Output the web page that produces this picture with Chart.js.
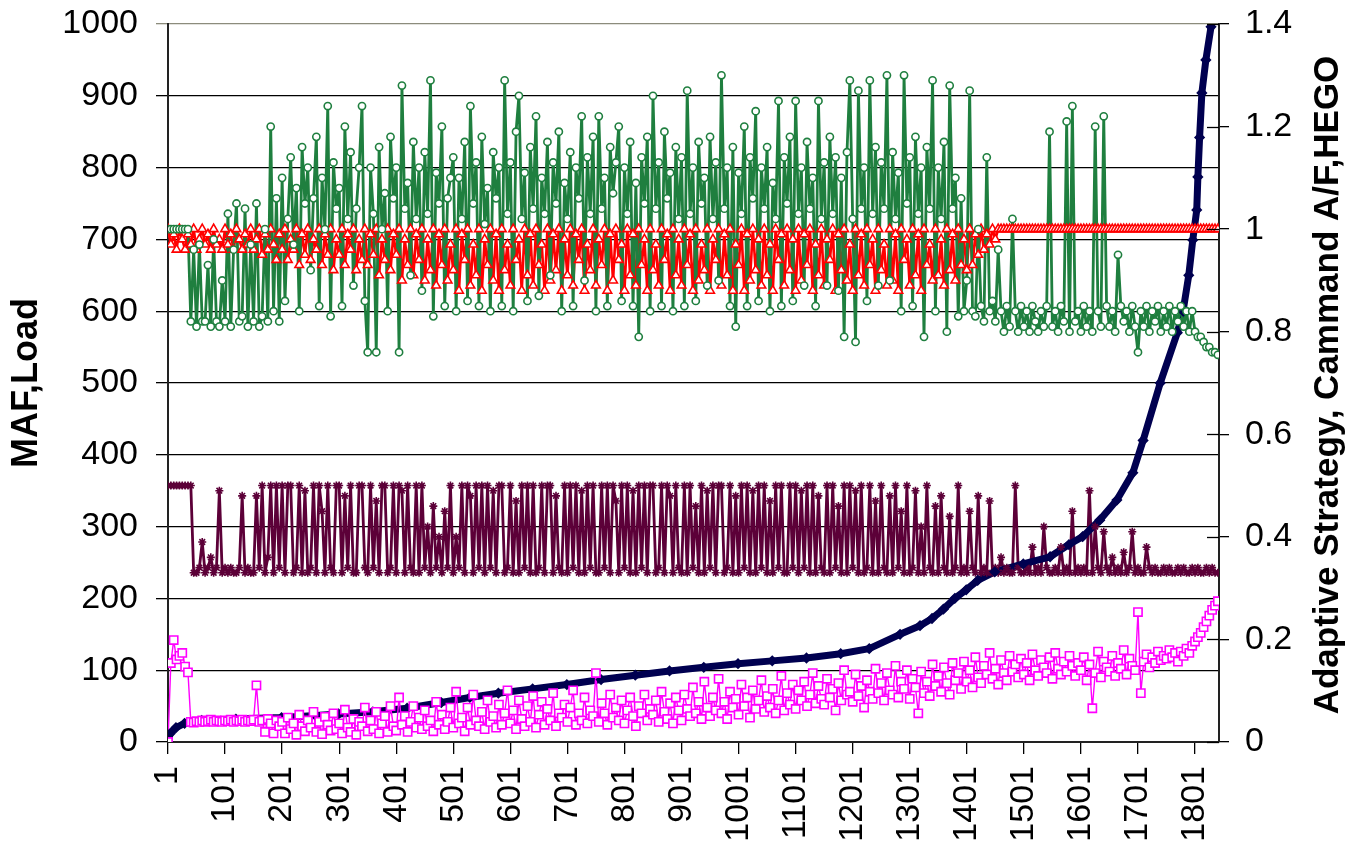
<!DOCTYPE html>
<html>
<head>
<meta charset="utf-8">
<title>MAF, Load, Adaptive Strategy, Commanded A/F, HEGO</title>
<script src="https://cdn.jsdelivr.net/npm/chart.js@4.4.1/dist/chart.umd.min.js"></script>
<style>
  html, body { margin: 0; padding: 0; background: #fff; }
  #wrap { width: 1359px; height: 848px; position: relative; }
</style>
</head>
<body>
<div id="wrap"><canvas id="engineChart"></canvas></div>
<script>
const FONT = "'Liberation Sans', Arial, sans-serif";

// log record numbers, one sample every 5 records (1 ... 1841)
const rowNumbers = [];
for (let r = 1; r <= 1841; r += 5) rowNumbers.push(r);

const xTickLabels = [1, 101, 201, 301, 401, 501, 601, 701, 801, 901, 1001,
  1101, 1201, 1301, 1401, 1501, 1601, 1701, 1801];

// right axis: HEGO (green circles), one line = 50 records
const hego = [
  1.00, 1.00, 1.00, 1.00, 1.00, 1.00, 1.00, 1.00, 0.82, 0.96,
  0.81, 0.97, 0.82, 0.82, 0.93, 0.81, 0.98, 0.82, 0.81, 0.90,
  0.82, 1.03, 0.81, 0.96, 1.05, 0.82, 0.83, 1.04, 0.81, 0.97,
  0.82, 1.05, 0.81, 0.83, 1.00, 0.82, 1.20, 0.84, 1.06, 0.82,
  1.10, 0.86, 1.02, 1.14, 0.97, 1.08, 0.84, 1.16, 1.05, 1.12,
  0.92, 1.06, 1.18, 0.85, 1.10, 1.00, 1.24, 0.83, 1.13, 1.04,
  1.08, 0.85, 1.20, 1.02, 1.15, 0.89, 1.04, 1.12, 1.24, 0.86,
  0.76, 1.12, 1.03, 0.76, 1.16, 1.00, 1.07, 0.84, 1.18, 1.06,
  1.12, 0.76, 1.28, 1.04, 1.09, 0.91, 1.17, 1.02, 1.12, 0.88,
  1.15, 1.03, 1.29, 0.83, 1.11, 1.05, 1.20, 0.85, 1.06, 1.10,
  1.14, 0.84, 1.10, 1.02, 1.17, 0.86, 1.24, 1.05, 1.13, 0.85,
  1.18, 1.01, 1.08, 0.84, 1.15, 1.06, 1.12, 0.85, 1.29, 1.03,
  1.13, 0.84, 1.19, 1.26, 1.02, 1.11, 0.86, 1.16, 1.04, 1.22,
  0.87, 1.10, 1.03, 1.17, 0.91, 1.13, 1.05, 1.19, 0.84, 1.09,
  1.02, 1.15, 0.85, 1.12, 1.06, 1.22, 0.90, 1.14, 1.03, 1.18,
  0.84, 1.22, 1.04, 1.10, 0.85, 1.16, 1.07, 1.13, 1.20, 0.86,
  1.12, 1.03, 1.17, 0.85, 1.09, 0.79, 1.14, 1.05, 1.18, 0.84,
  1.26, 1.04, 1.13, 0.85, 1.19, 1.06, 1.11, 0.84, 1.16, 1.02,
  1.14, 0.85, 1.27, 1.03, 1.12, 0.86, 1.17, 1.05, 1.10, 0.89,
  1.18, 1.02, 1.13, 0.90, 1.30, 1.04, 1.12, 0.85, 1.16, 0.81,
  1.11, 1.03, 1.20, 0.85, 1.14, 1.06, 1.23, 0.86, 1.12, 1.04,
  1.16, 0.84, 1.09, 1.02, 1.25, 0.85, 1.14, 1.05, 1.18, 0.86,
  1.25, 1.03, 1.12, 0.89, 1.17, 1.04, 1.10, 0.85, 1.25, 1.02,
  1.13, 0.89, 1.18, 1.03, 1.14, 0.88, 1.10, 0.79, 1.15, 1.29,
  1.02, 0.78, 1.27, 1.04, 1.12, 0.86, 1.29, 1.03, 1.16, 0.89,
  1.13, 1.04, 1.30, 0.90, 1.15, 1.02, 1.11, 0.84, 1.30, 1.05,
  1.14, 0.85, 1.18, 1.03, 1.12, 0.79, 1.16, 1.04, 1.29, 0.84,
  1.12, 1.02, 1.17, 0.80, 1.28, 1.04, 1.10, 0.83, 1.06, 0.84,
  0.90, 1.27, 0.84, 0.83, 1.00, 0.85, 0.82, 1.14, 0.84, 0.86,
  0.82, 0.96, 0.84, 0.80, 0.85, 0.81, 1.02, 0.84, 0.80, 0.85,
  0.81, 0.84, 0.80, 0.85, 0.82, 0.80, 0.84, 0.81, 0.85, 1.19,
  0.81, 0.84, 0.80, 0.85, 0.82, 1.21, 0.80, 1.24, 0.82, 0.84,
  0.80, 0.85, 0.81, 0.84, 0.80, 1.20, 0.84, 0.81, 1.22, 0.85,
  0.81, 0.84, 0.80, 0.95, 0.85, 0.82, 0.84, 0.80, 0.85, 0.81,
  0.76, 0.84, 0.81, 0.85, 0.80, 0.84, 0.82, 0.85, 0.80, 0.84,
  0.81, 0.85, 0.80, 0.84, 0.82, 0.85, 0.81, 0.84, 0.80, 0.84,
  0.80, 0.79, 0.79, 0.78, 0.77, 0.77, 0.76, 0.76, 0.755
];

// right axis: commanded A/F (red triangles)
const cmdAF = [
  1.00, 0.97, 0.99, 0.96, 1.00, 0.98, 0.96, 0.99, 0.97, 1.00,
  0.96, 0.98, 1.00, 0.97, 0.99, 0.96, 1.00, 0.97, 0.98, 0.96,
  1.00, 0.97, 0.99, 0.96, 1.00, 0.98, 0.96, 0.99, 0.97, 1.00,
  0.96, 0.98, 1.00, 0.95, 0.99, 0.96, 1.00, 0.97, 0.94, 0.99,
  0.96, 1.00, 0.94, 0.98, 0.96, 1.00, 0.93, 0.99, 0.95, 1.00,
  0.94, 0.98, 0.96, 1.00, 0.93, 0.99, 0.95, 1.00, 0.92, 0.98,
  0.95, 1.00, 0.93, 0.99, 0.96, 1.00, 0.92, 0.98, 0.94, 1.00,
  0.93, 0.99, 0.95, 1.00, 0.91, 0.98, 0.94, 1.00, 0.92, 0.99,
  0.95, 1.00, 0.90, 0.98, 0.93, 1.00, 0.91, 0.99, 0.94, 1.00,
  0.90, 0.98, 0.92, 1.00, 0.89, 0.99, 0.93, 1.00, 0.90, 0.97,
  0.92, 1.00, 0.88, 0.99, 0.94, 1.00, 0.89, 0.97, 0.91, 1.00,
  0.88, 0.98, 0.93, 1.00, 0.90, 0.99, 0.88, 1.00, 0.92, 0.97,
  0.89, 1.00, 0.94, 0.98, 0.88, 1.00, 0.91, 0.99, 0.89, 1.00,
  0.93, 0.97, 0.88, 1.00, 0.90, 0.99, 0.92, 1.00, 0.88, 0.98,
  0.91, 1.00, 0.89, 0.99, 0.94, 1.00, 0.88, 0.97, 0.92, 1.00,
  0.89, 0.98, 0.93, 1.00, 0.88, 0.99, 0.90, 1.00, 0.94, 0.97,
  0.88, 1.00, 0.91, 0.99, 0.89, 1.00, 0.93, 0.98, 0.88, 1.00,
  0.92, 0.97, 0.89, 1.00, 0.94, 0.99, 0.88, 1.00, 0.91, 0.98,
  0.89, 1.00, 0.93, 0.99, 0.88, 1.00, 0.90, 0.97, 0.92, 1.00,
  0.88, 0.98, 0.94, 1.00, 0.89, 0.99, 0.91, 1.00, 0.88, 0.97,
  0.93, 1.00, 0.88, 0.99, 0.90, 1.00, 0.92, 0.98, 0.89, 1.00,
  0.91, 0.97, 0.88, 1.00, 0.94, 0.99, 0.89, 1.00, 0.92, 0.98,
  0.88, 1.00, 0.90, 0.99, 0.93, 1.00, 0.88, 0.97, 0.91, 1.00,
  0.89, 0.98, 0.94, 1.00, 0.88, 0.99, 0.92, 1.00, 0.90, 0.97,
  0.88, 1.00, 0.91, 0.99, 0.89, 1.00, 0.93, 0.98, 0.88, 1.00,
  0.92, 0.97, 0.89, 1.00, 0.90, 0.99, 0.88, 1.00, 0.94, 0.98,
  0.89, 1.00, 0.91, 0.99, 0.88, 1.00, 0.93, 0.97, 0.90, 1.00,
  0.91, 0.98, 0.89, 1.00, 0.92, 0.99, 0.90, 1.00, 0.93, 0.98,
  0.92, 1.00, 0.93, 0.99, 0.95, 1.00, 0.96, 0.99, 0.97, 1.00,
  0.98, 1.00, 1.00, 1.00, 1.00, 1.00, 1.00, 1.00, 1.00, 1.00,
  1.00, 1.00, 1.00, 1.00, 1.00, 1.00, 1.00, 1.00, 1.00, 1.00,
  1.00, 1.00, 1.00, 1.00, 1.00, 1.00, 1.00, 1.00, 1.00, 1.00,
  1.00, 1.00, 1.00, 1.00, 1.00, 1.00, 1.00, 1.00, 1.00, 1.00,
  1.00, 1.00, 1.00, 1.00, 1.00, 1.00, 1.00, 1.00, 1.00, 1.00,
  1.00, 1.00, 1.00, 1.00, 1.00, 1.00, 1.00, 1.00, 1.00, 1.00,
  1.00, 1.00, 1.00, 1.00, 1.00, 1.00, 1.00, 1.00, 1.00, 1.00,
  1.00, 1.00, 1.00, 1.00, 1.00, 1.00, 1.00, 1.00, 1.00
];

// right axis: adaptive strategy (maroon asterisks)
const adaptive = [
  0.50, 0.50, 0.50, 0.50, 0.50, 0.50, 0.50, 0.50, 0.50, 0.33,
  0.33, 0.34, 0.39, 0.33, 0.34, 0.36, 0.33, 0.34, 0.49, 0.33,
  0.34, 0.33, 0.34, 0.33, 0.33, 0.34, 0.48, 0.33, 0.34, 0.33,
  0.33, 0.48, 0.34, 0.50, 0.33, 0.36, 0.50, 0.33, 0.50, 0.34,
  0.50, 0.33, 0.50, 0.50, 0.33, 0.34, 0.50, 0.33, 0.49, 0.33,
  0.34, 0.50, 0.33, 0.50, 0.45, 0.33, 0.50, 0.34, 0.33, 0.50,
  0.50, 0.33, 0.48, 0.34, 0.50, 0.33, 0.33, 0.50, 0.50, 0.34,
  0.33, 0.50, 0.34, 0.47, 0.33, 0.50, 0.50, 0.33, 0.34, 0.50,
  0.33, 0.50, 0.49, 0.33, 0.50, 0.34, 0.33, 0.50, 0.33, 0.50,
  0.34, 0.42, 0.33, 0.46, 0.34, 0.40, 0.33, 0.45, 0.34, 0.50,
  0.33, 0.40, 0.34, 0.50, 0.33, 0.50, 0.48, 0.33, 0.50, 0.34,
  0.50, 0.33, 0.50, 0.34, 0.49, 0.33, 0.50, 0.50, 0.33, 0.34,
  0.50, 0.33, 0.47, 0.33, 0.50, 0.34, 0.50, 0.33, 0.50, 0.33,
  0.34, 0.50, 0.33, 0.50, 0.50, 0.33, 0.48, 0.34, 0.33, 0.50,
  0.33, 0.50, 0.34, 0.50, 0.33, 0.49, 0.33, 0.50, 0.34, 0.50,
  0.33, 0.33, 0.50, 0.34, 0.50, 0.33, 0.50, 0.47, 0.33, 0.50,
  0.34, 0.50, 0.33, 0.49, 0.33, 0.50, 0.34, 0.50, 0.33, 0.50,
  0.50, 0.33, 0.34, 0.50, 0.33, 0.50, 0.48, 0.33, 0.50, 0.34,
  0.33, 0.50, 0.33, 0.50, 0.34, 0.46, 0.33, 0.50, 0.33, 0.49,
  0.34, 0.50, 0.33, 0.50, 0.50, 0.33, 0.34, 0.50, 0.33, 0.48,
  0.33, 0.50, 0.34, 0.50, 0.33, 0.49, 0.33, 0.50, 0.34, 0.50,
  0.33, 0.47, 0.33, 0.50, 0.34, 0.50, 0.33, 0.33, 0.50, 0.34,
  0.50, 0.33, 0.49, 0.34, 0.50, 0.33, 0.50, 0.33, 0.48, 0.34,
  0.33, 0.50, 0.33, 0.50, 0.34, 0.46, 0.33, 0.50, 0.33, 0.50,
  0.34, 0.49, 0.33, 0.50, 0.33, 0.34, 0.50, 0.33, 0.47, 0.33,
  0.50, 0.34, 0.33, 0.48, 0.33, 0.50, 0.34, 0.45, 0.33, 0.50,
  0.33, 0.34, 0.49, 0.33, 0.42, 0.33, 0.50, 0.34, 0.33, 0.46,
  0.33, 0.48, 0.34, 0.33, 0.44, 0.33, 0.34, 0.50, 0.33, 0.34,
  0.33, 0.45, 0.34, 0.33, 0.48, 0.33, 0.34, 0.33, 0.47, 0.33,
  0.34, 0.33, 0.36, 0.33, 0.34, 0.33, 0.33, 0.50, 0.34, 0.33,
  0.33, 0.34, 0.33, 0.38, 0.33, 0.34, 0.33, 0.42, 0.34, 0.33,
  0.33, 0.34, 0.33, 0.38, 0.33, 0.34, 0.33, 0.45, 0.33, 0.34,
  0.33, 0.34, 0.33, 0.49, 0.33, 0.42, 0.34, 0.33, 0.41, 0.34,
  0.33, 0.36, 0.33, 0.34, 0.33, 0.37, 0.33, 0.34, 0.41, 0.33,
  0.34, 0.33, 0.33, 0.38, 0.34, 0.33, 0.34, 0.33, 0.33, 0.34,
  0.33, 0.34, 0.33, 0.33, 0.34, 0.33, 0.34, 0.33, 0.33, 0.34,
  0.33, 0.34, 0.33, 0.33, 0.34, 0.33, 0.34, 0.33, 0.33
];

// left axis: Load (magenta squares)
const load = [
  0, 110, 142, 115, 120, 124, 105, 97, 28, 27,
  29, 28, 30, 28, 29, 31, 28, 30, 29, 28,
  30, 29, 31, 28, 30, 29, 31, 28, 30, 29,
  31, 79, 28, 30, 14, 32, 26, 12, 30, 22,
  28, 12, 34, 18, 26, 10, 38, 22, 15, 30,
  20, 42, 14, 28, 11, 35, 24, 16, 40, 18,
  26, 12, 45, 20, 14, 32, 10, 28, 22, 48,
  15, 30, 18, 42, 12, 26, 36, 14, 50, 22,
  16, 62, 24, 36, 14, 28, 50, 20, 34, 18,
  44, 22, 30, 15, 56, 24, 38, 18, 28, 48,
  20, 70, 26, 34, 15, 48, 24, 66, 30, 22,
  42, 18, 58, 28, 36, 20, 52, 24, 40, 72,
  26, 44, 18, 58, 32, 22, 50, 28, 64, 20,
  38, 56, 24, 46, 30, 68, 22, 40, 34, 52,
  28, 48, 72, 24, 40, 30, 62, 26, 44, 36,
  96, 28, 54, 40, 24, 66, 34, 48, 30, 58,
  26, 44, 62, 36, 22, 50, 40, 66, 30, 46,
  38, 58, 28, 70, 42, 32, 54, 26, 62, 44,
  30, 66, 46, 36, 76, 40, 56, 32, 84, 48,
  36, 62, 44, 88, 40, 56, 32, 70, 48, 60,
  38, 80, 50, 62, 34, 72, 46, 58, 86, 42,
  64, 48, 74, 40, 58, 92, 44, 68, 52, 80,
  46, 72, 58, 84, 50, 66, 96, 54, 78, 60,
  52, 88, 62, 74, 44, 82, 58, 100, 66, 70,
  56, 94, 64, 78, 48, 86, 70, 60, 102, 68,
  82, 58, 96, 72, 66, 106, 62, 84, 74, 100,
  60, 88, 76, 40, 98, 68, 84, 64, 108, 78,
  92, 70, 104, 82, 66, 110, 86, 96, 74, 112,
  84, 100, 76, 118, 90, 82, 106, 94, 124, 88,
  102, 80, 114, 96, 86, 120, 98, 108, 90, 116,
  94, 110, 86, 122, 100, 92, 114, 104, 96, 118,
  88, 124, 102, 94, 112, 98, 120, 106, 92, 110,
  100, 118, 86, 108, 47, 96, 126, 90, 112, 104,
  98, 120, 92, 110, 102, 128, 94, 116, 106, 100,
  181, 68, 112, 122, 104, 118, 110, 126, 114, 120,
  116, 128, 118, 124, 112, 126, 120, 130, 124, 134,
  140, 146, 152, 160, 168, 176, 184, 190, 196
];

// left axis: MAF (navy diamonds), sorted curve
const mafRows = [1, 5, 15, 30, 60, 120, 200, 260, 300, 360, 420, 480, 530, 580,
  640, 700, 760, 820, 880, 940, 1000, 1060, 1120, 1180, 1230, 1284, 1319, 1340,
  1360, 1380, 1400, 1420, 1450, 1500, 1547, 1580, 1604, 1634, 1664, 1692, 1710,
  1740, 1770, 1780, 1790, 1797, 1804, 1806, 1809, 1813, 1820, 1829];
const maf = [0, 12, 20, 26, 30, 32, 34, 37, 39, 42, 47, 55, 62, 68,
  74, 80, 87, 93, 99, 104, 109, 113, 117, 123, 130, 150, 162, 172,
  185, 200, 212, 225, 237, 248, 258, 275, 286, 309, 337, 375, 420,
  500, 570, 600, 650, 699, 741, 787, 842, 904, 950, 996];

const rightTitle = 'Adaptive Strategy, Cammand A/F,HEGO';

function pairs(rows, values) {
  return rows.map((r, i) => ({ x: r, y: values[i] }));
}

// Excel draws every series' line first and the markers on top,
// so each series is split into a line dataset and a marker dataset
function series(label, rows, values, axis, color, style, radius, fill, lineWidth, order) {
  const data = pairs(rows, values);
  return [
    {
      label: label, data: data, yAxisID: axis,
      borderColor: color, borderWidth: lineWidth, borderJoinStyle: 'bevel',
      pointRadius: 0, tension: 0, fill: false, order: order + 10
    },
    {
      label: label + ' markers', data: data, yAxisID: axis, showLine: false,
      pointStyle: style, pointRadius: radius,
      pointBorderColor: color, pointBackgroundColor: fill, pointBorderWidth: 1.6,
      order: order
    }
  ];
}

// keep the plot box where Excel put it: labels may hang outside it
function noLabelPadding(scale) {
  scale.paddingTop = 0;
  scale.paddingBottom = 0;
  scale.paddingLeft = 0;
  scale.paddingRight = 0;
}

const rightAxisExtras = {
  id: 'rightAxisExtras',
  afterDraw(chart) {
    const { ctx, chartArea, scales } = chart;
    const y1 = scales.y1;
    ctx.save();
    ctx.strokeStyle = '#000';
    ctx.lineWidth = 1.3;
    y1.ticks.forEach(t => {
      const py = Math.round(y1.getPixelForValue(t.value)) + 0.5;
      ctx.beginPath();
      ctx.moveTo(chartArea.right - 12, py);
      ctx.lineTo(chartArea.right, py);
      ctx.stroke();
    });
    ctx.translate(1328, 385);
    ctx.rotate(-Math.PI / 2);
    ctx.font = 'bold 35px ' + FONT;
    ctx.textAlign = 'center';
    ctx.textBaseline = 'middle';
    ctx.fillStyle = '#000';
    ctx.fillText(rightTitle, 0, 0);
    ctx.restore();
  }
};

const ctx = document.getElementById('engineChart').getContext('2d');
new Chart(ctx, {
  type: 'line',
  data: {
    datasets: [
      ...series('Load', rowNumbers, load, 'y', '#ff00ff', 'rect', 5.8, '#ffffff', 1.4, 1),
      ...series('HEGO', rowNumbers, hego, 'y1', '#1f7f3f', 'circle', 3.6, '#ffffff', 2.8, 2),
      ...series('Cammand A/F', rowNumbers, cmdAF, 'y1', '#ff0000', 'triangle', 5, '#ffffff', 2.6, 3),
      ...series('MAF', mafRows, maf, 'y', '#000050', 'rectRot', 4.5, '#000050', 7, 4),
      ...series('Adaptive Strategy', rowNumbers, adaptive, 'y1', '#5c0038', 'star', 4, '#5c0038', 2.8, 5)
    ]
  },
  options: {
    responsive: true,
    maintainAspectRatio: false,
    animation: false,
    events: [],
    layout: { padding: { top: 24, left: 0, right: 0, bottom: 0 } },
    plugins: {
      legend: { display: false },
      tooltip: { enabled: false }
    },
    scales: {
      x: {
        type: 'linear',
        min: 1,
        max: 1843,
        afterBuildTicks: function (scale) {
          scale.ticks = xTickLabels.map(v => ({ value: v }));
        },
        afterFit: function (scale) { scale.height = 106; noLabelPadding(scale); },
        ticks: {
          autoSkip: false,
          minRotation: 90,
          maxRotation: 90,
          padding: 12,
          color: '#000',
          font: { family: FONT, size: 34 },
          callback: function (value) { return String(value); }
        },
        grid: { drawOnChartArea: false, drawTicks: true, tickLength: 12, color: '#000', lineWidth: 1.3 },
        border: { color: '#222', width: 2 }
      },
      y: {
        position: 'left',
        min: 0,
        max: 1000,
        afterFit: function (scale) { scale.width = 168; noLabelPadding(scale); },
        ticks: {
          stepSize: 100,
          padding: 18,
          color: '#000',
          font: { family: FONT, size: 34 },
          callback: function (value) { return String(value); }
        },
        grid: {
          tickLength: 12,
          lineWidth: 1.3,
          color: function (c) { return c.tick && c.tick.value === 1000 ? '#8c8c7c' : '#000'; }
        },
        border: { color: '#222', width: 2 },
        title: {
          display: true,
          text: 'MAF,Load',
          color: '#000',
          padding: { top: 5 },
          font: { family: FONT, size: 36, weight: 'bold' }
        }
      },
      y1: {
        position: 'right',
        min: 0,
        max: 1.4,
        afterFit: function (scale) { scale.width = 140; noLabelPadding(scale); },
        ticks: {
          stepSize: 0.2,
          padding: 16,
          color: '#000',
          font: { family: FONT, size: 34 },
          callback: function (value) { return String(+value.toFixed(1)); }
        },
        grid: { drawOnChartArea: false, tickLength: 10, color: '#000', lineWidth: 1.3 },
        border: { color: '#222', width: 2 }
      }
    }
  },
  plugins: [rightAxisExtras]
});
</script>
</body>
</html>
